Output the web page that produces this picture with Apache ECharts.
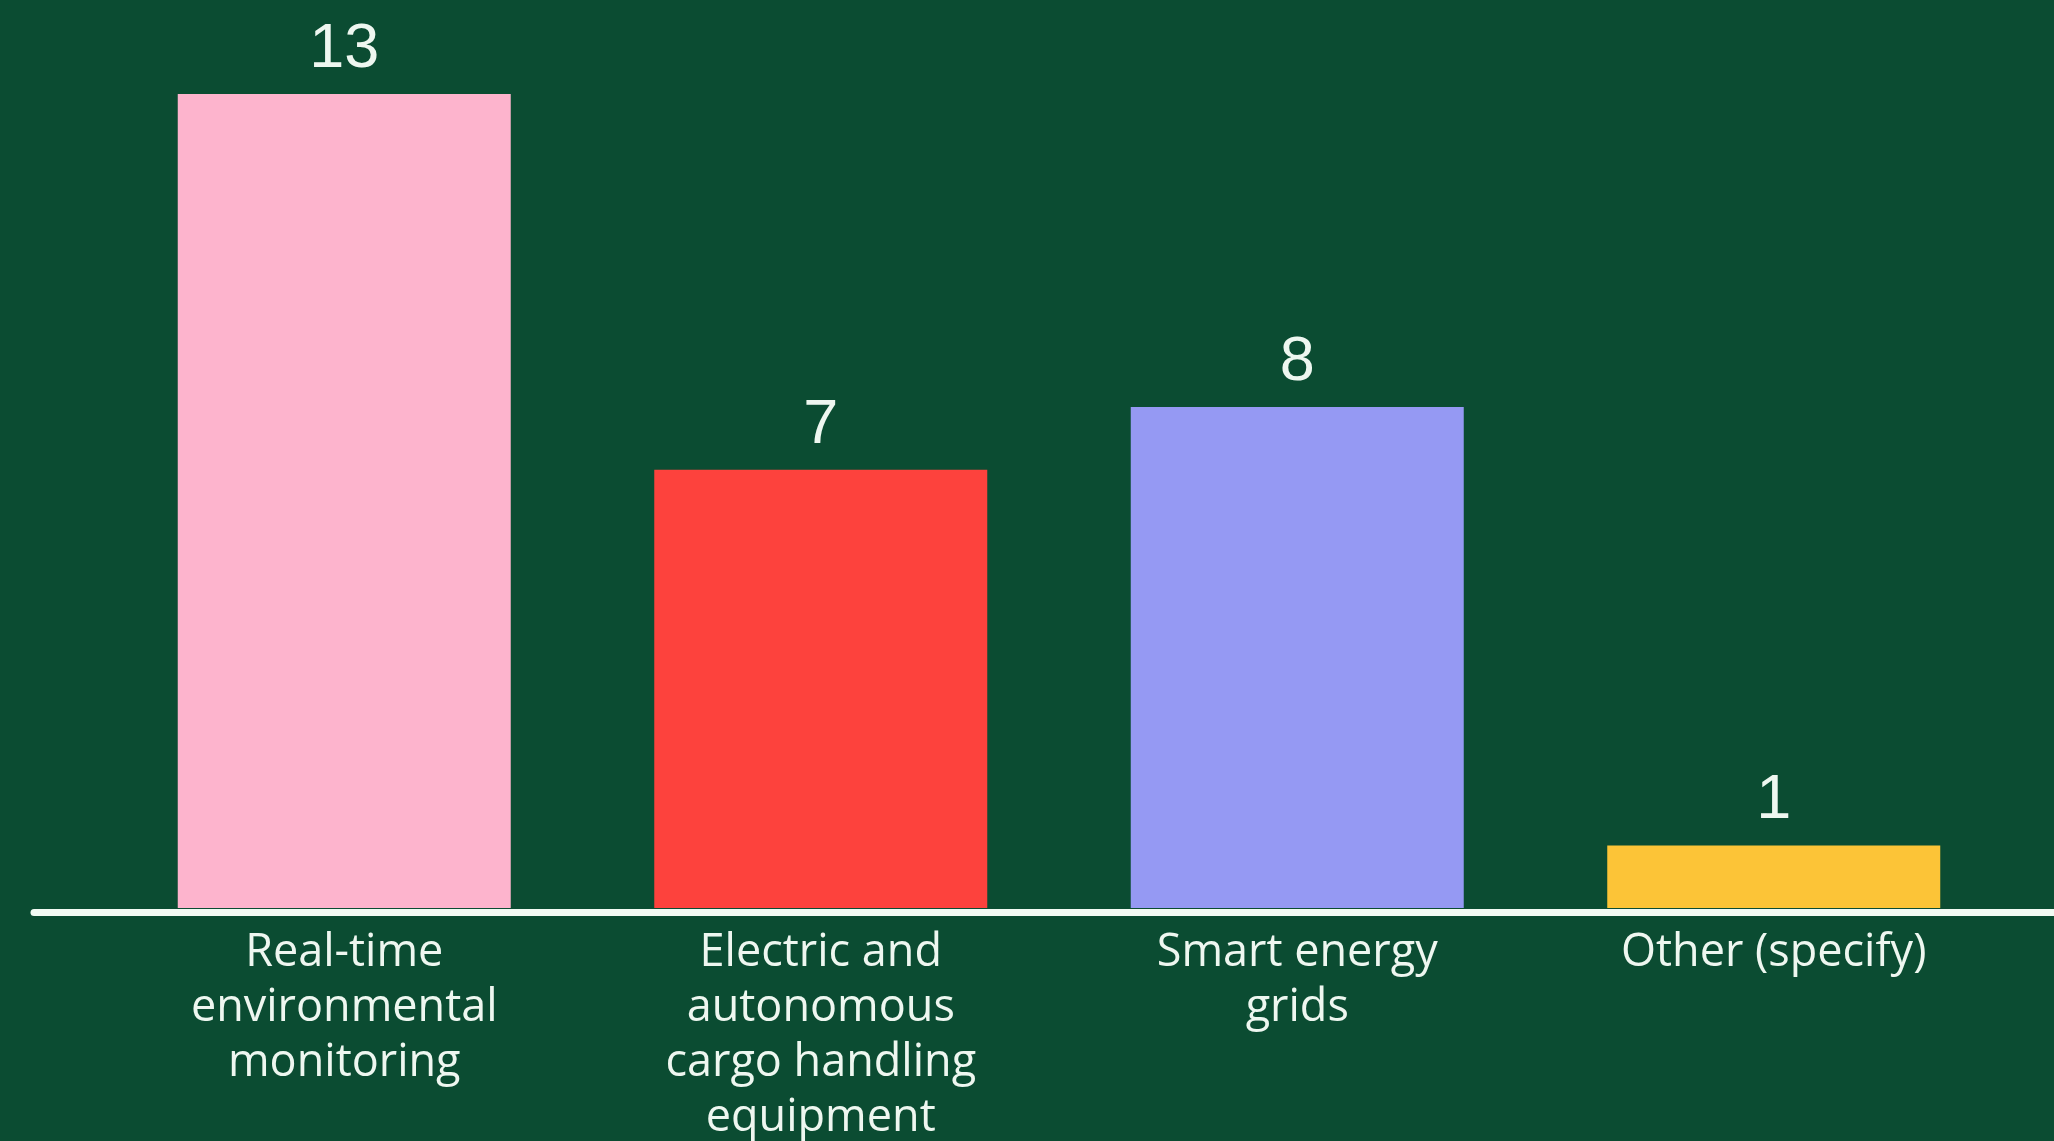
<!DOCTYPE html>
<html>
<head>
<meta charset="utf-8">
<script src="https://cdn.jsdelivr.net/npm/echarts@6/dist/echarts.min.js"></script>
<style>
html,body{margin:0;padding:0;background:#0b4c32;}
#c{width:2054px;height:1141px;}
</style>
</head>
<body>
<div id="c"></div>
<script>
const categories = [
  "Real-time\nenvironmental\nmonitoring",
  "Electric and\nautonomous\ncargo handling\nequipment",
  "Smart energy\ngrids",
  "Other (specify)"
];
const values = [13, 7, 8, 1];
const barColors = ["#fdb4cd", "#fd423d", "#9599f3", "#fcc437"];

const chart = echarts.init(document.getElementById('c'), null, {renderer: 'canvas'});
chart.setOption({
  backgroundColor: '#0b4c32',
  animation: false,
  grid: [
    {left: 106, right: 42, top: 94, bottom: 233, containLabel: false, outerBoundsMode: 'none'},
    {left: 34, right: 0, top: 94, bottom: 229, containLabel: false, outerBoundsMode: 'none'}
  ],
  xAxis: [
    {
      type: 'category', gridIndex: 0, data: categories,
      axisLine: {show: false}, axisTick: {show: false},
      axisLabel: {
        interval: 0, margin: 18, color: '#eef7f0',
        fontFamily: 'Open Sans', fontSize: 45, lineHeight: 55
      }
    },
    {
      type: 'category', gridIndex: 1, data: categories,
      axisLine: {show: true, onZero: false, lineStyle: {color: '#f2fbf4', width: 7}},
      axisTick: {show: false}, axisLabel: {show: false}
    }
  ],
  yAxis: [
    {type: 'value', gridIndex: 0, min: 0, max: 13, show: false, splitLine: {show: false}},
    {type: 'value', gridIndex: 1, min: 0, max: 13, show: false, splitLine: {show: false}}
  ],
  series: [{
    type: 'bar',
    xAxisIndex: 0, yAxisIndex: 0,
    barWidth: 333,
    data: values.map((v, i) => ({value: v, itemStyle: {color: barColors[i]}})),
    label: {
      show: true, position: 'top', distance: 13,
      color: '#eef7f0', fontFamily: 'Liberation Sans', fontSize: 63
    }
  }]
});
</script>
</body>
</html>
